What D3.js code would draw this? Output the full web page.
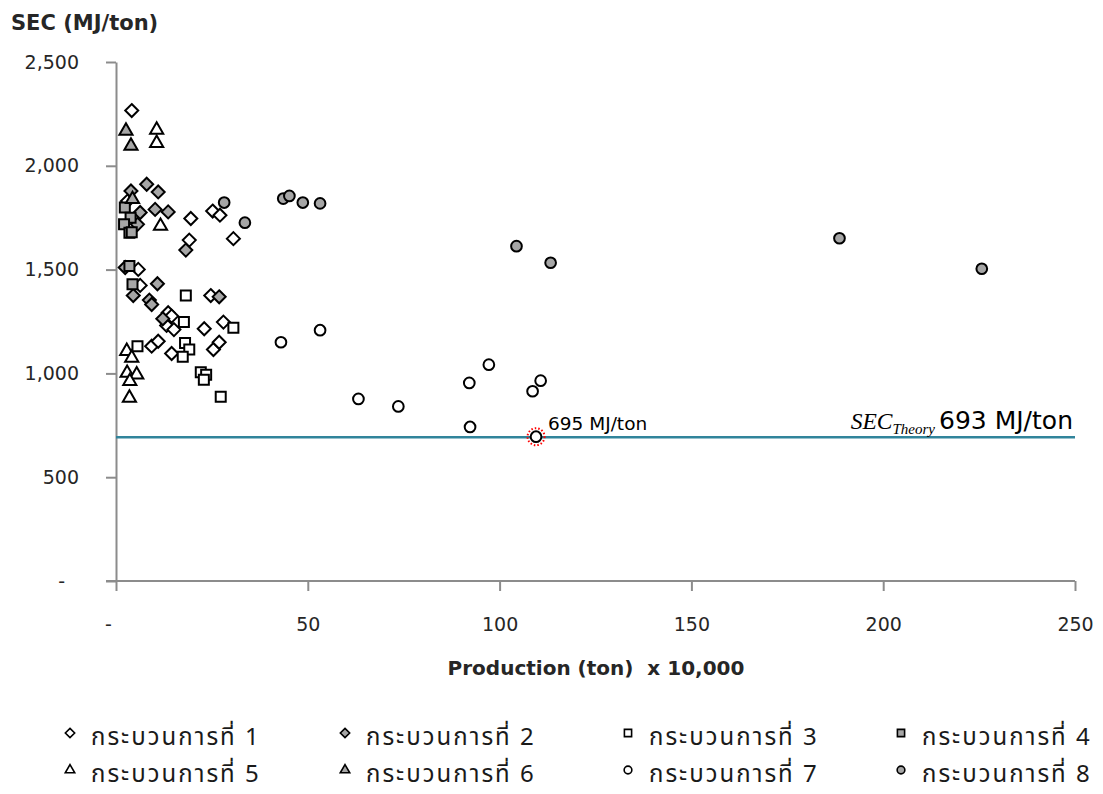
<!DOCTYPE html>
<html>
<head>
<meta charset="utf-8">
<script src="https://cdn.jsdelivr.net/npm/d3@7"></script>
<style>
  html, body { margin: 0; padding: 0; background: #fff; }
  svg { display: block; }
  text { font-family: "DejaVu Sans", "Noto Sans", sans-serif; }
  .thai { font-family: "Noto Sans Thai", "Noto Sans", sans-serif; }
</style>
</head>
<body>
<svg id="chart" width="1103" height="794"></svg>
<script>
// Production (x 10,000 ton) and specific energy consumption (MJ/ton) per process
const proc1 = [[4.1,2266],[3.0,1830],[19.5,1746],[19.1,1642],[25.2,1782],[27.1,1762],[30.6,1649],[5.8,1501],[6.3,1424],[24.7,1375],[13.6,1292],[14.5,1276],[13.2,1231],[15.1,1211],[23.0,1215],[28.0,1247],[9.3,1131],[11.0,1155],[14.5,1096],[25.4,1115],[26.9,1150]];
const proc2 = [[8.0,1911],[11.0,1874],[3.9,1879],[6.3,1775],[5.6,1718],[10.2,1790],[13.6,1778],[18.2,1594],[2.4,1510],[10.8,1432],[4.5,1375],[8.7,1353],[9.3,1332],[26.9,1369],[12.2,1263]];
const proc3 = [[18.2,1375],[17.7,1247],[30.6,1220],[5.6,1131],[18.0,1147],[19.1,1115],[17.4,1080],[22.1,1005],[23.5,994],[22.9,970],[27.3,887]];
const proc4 = [[2.3,1799],[3.8,1750],[2.1,1718],[3.5,1678],[4.1,1680],[3.5,1517],[4.3,1429]];
const proc5 = [[10.6,2173],[10.6,2109],[11.6,1710],[2.8,1107],[4.1,1075],[2.9,1002],[5.4,994],[3.6,962],[3.5,882]];
const proc6 = [[2.6,2168],[3.9,2096],[4.3,1839]];
const proc7 = [[43.0,1150],[53.2,1208],[63.2,877],[73.6,841],[92.1,954],[97.2,1042],[92.3,742],[108.6,914],[110.7,965],[109.5,695]];
const proc8 = [[28.2,1823],[33.6,1726],[43.6,1842],[45.2,1855],[48.7,1823],[53.2,1819],[104.4,1613],[113.3,1533],[188.6,1651],[225.7,1504]];

const seriesNames = ["กระบวนการที่ 1","กระบวนการที่ 2","กระบวนการที่ 3","กระบวนการที่ 4","กระบวนการที่ 5","กระบวนการที่ 6","กระบวนการที่ 7","กระบวนการที่ 8"];
const seriesShapes = ["diamond","diamond","square","square","triangle","triangle","circle","circle"];
const seriesFilled = [false,true,false,true,false,true,false,true];
const seriesData = [proc1,proc2,proc3,proc4,proc5,proc6,proc7,proc8];

const xTicks = [0,50,100,150,200,250];
const yTicks = [0,500,1000,1500,2000,2500];

const secTheory = 693;
const bestPoint = [109.5, 695];

const svg = d3.select("#chart");
const x = d3.scaleLinear().domain([0,250]).range([116,1075]);
const y = d3.scaleLinear().domain([0,2500]).range([581,62]);
const fmt = v => v === 0 ? "-" : d3.format(",")(v);

const axisColor = "#8c8c8c";

// axes
const gx = svg.append("g").attr("transform", `translate(0,${y(0)})`)
  .call(d3.axisBottom(x).tickValues(xTicks).tickFormat(fmt).tickSizeInner(10).tickSizeOuter(0).tickPadding(27));
const gy = svg.append("g").attr("transform", `translate(${x(0)},0)`)
  .call(d3.axisLeft(y).tickValues(yTicks).tickFormat(fmt).tickSizeInner(10).tickSizeOuter(0).tickPadding(27));
[gx, gy].forEach(g => {
  g.select(".domain").attr("stroke", axisColor).attr("stroke-width", 2);
  g.selectAll(".tick line").attr("stroke", axisColor).attr("stroke-width", 2);
  g.selectAll(".tick text").attr("fill", "#262626").style("font-size", "19px")
    .style("font-family", '"DejaVu Sans", sans-serif');
});
// extend x-axis line to the left of the y-axis
gx.select(".domain").attr("d", `M${x(0)-10},0H${x(250)}`);
// zero labels sit a little to the left, accounting style
gx.selectAll(".tick text").filter(d => d === 0).attr("dx", -8);
gy.selectAll(".tick text").filter(d => d === 0).attr("dx", -14);

// theoretical SEC line
svg.append("line")
  .attr("x1", x(0)).attr("x2", x(250))
  .attr("y1", y(secTheory)).attr("y2", y(secTheory))
  .attr("stroke", "#31849b").attr("stroke-width", 2.5);

// markers
const symType = { diamond: d3.symbolDiamond, square: d3.symbolSquare, triangle: d3.symbolTriangle, circle: d3.symbolCircle };
const symSize = { diamond: 75, square: 100, triangle: 75, circle: 90 };
function markerPath(shape, scale) {
  if (shape === "diamond") {
    const r = 6.5 * scale;
    return `M0,${-r}L${r},0L0,${r}L${-r},0Z`;
  }
  return d3.symbol(symType[shape], symSize[shape] * scale * scale)();
}

seriesData.forEach((data, i) => {
  svg.append("g").selectAll("path").data(data).join("path")
    .attr("transform", d => `translate(${x(d[0])},${y(d[1])})`)
    .attr("d", markerPath(seriesShapes[i], 1))
    .attr("fill", seriesFilled[i] ? "#a6a6a6" : "#fff")
    .attr("stroke", "#000").attr("stroke-width", 2);
});

// highlight of the lowest SEC point
svg.append("circle")
  .attr("cx", x(bestPoint[0])).attr("cy", y(bestPoint[1])).attr("r", 8.5)
  .attr("fill", "none").attr("stroke", "#ff0000").attr("stroke-width", 2)
  .attr("stroke-dasharray", "1.5,2");
svg.append("text")
  .attr("x", x(bestPoint[0]) + 12).attr("y", y(bestPoint[1]) - 7)
  .style("font-size", "18.5px").attr("fill", "#000")
  .text(`${bestPoint[1]} MJ/ton`);

// SEC theory label
const lab = svg.append("text").attr("x", 1073).attr("y", y(secTheory) - 8).attr("text-anchor", "end");
lab.append("tspan").style("font-family", '"Liberation Serif", "DejaVu Serif", serif')
  .style("font-style", "italic").style("font-size", "23.5px").text("SEC");
lab.append("tspan").attr("dy", 5).style("font-family", '"Liberation Serif", "DejaVu Serif", serif')
  .style("font-style", "italic").style("font-size", "15px").text("Theory");
lab.append("tspan").attr("dy", -5).attr("dx", 4).style("font-size", "25px").attr("fill", "#000")
  .text(`${secTheory} MJ/ton`);

// axis titles
svg.append("text").attr("x", 11).attr("y", 30)
  .style("font-weight", "bold").style("font-size", "21px").attr("fill", "#262626")
  .text("SEC (MJ/ton)");
svg.append("text").attr("x", 596).attr("y", 675).attr("text-anchor", "middle")
  .style("font-weight", "bold").style("font-size", "20px").style("white-space", "pre").attr("fill", "#262626")
  .text("Production (ton)  x 10,000");

// legend
const legX = [70, 345, 628, 901];
const legY = [745, 782];
seriesNames.forEach((name, i) => {
  const col = i % 4, row = Math.floor(i / 4);
  const g = svg.append("g").attr("transform", `translate(${legX[col]},${legY[row]})`);
  g.append("path")
    .attr("transform", "translate(0,-12)")
    .attr("d", markerPath(seriesShapes[i], 0.72))
    .attr("fill", seriesFilled[i] ? "#a6a6a6" : "#fff")
    .attr("stroke", "#000").attr("stroke-width", 1.6);
  g.append("text").attr("class", "thai").attr("x", 21).attr("y", 0)
    .style("font-size", "24px").style("letter-spacing", "2px").attr("fill", "#1a1a1a")
    .text(name);
});
</script>
</body>
</html>
